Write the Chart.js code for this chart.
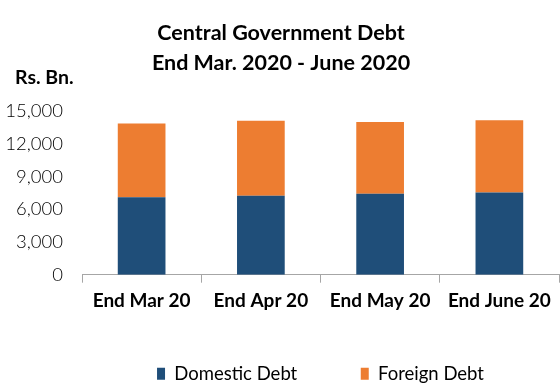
<!DOCTYPE html>
<html>
<head>
<meta charset="utf-8">
<script src="https://cdn.jsdelivr.net/npm/chart.js@4.4.0/dist/chart.umd.min.js"></script>
<style>
  html, body { margin: 0; padding: 0; background: #fff; }
  #wrap { width: 560px; height: 390px; }
</style>
</head>
<body>
<div id="wrap"><canvas id="debtChart"></canvas></div>
<script>
const categories = ['End Mar 20', 'End Apr 20', 'End May 20', 'End June 20'];
const domesticDebt = [7110, 7240, 7420, 7550];
const foreignDebt = [6770, 6890, 6590, 6610];
const yTicks = [0, 3000, 6000, 9000, 12000, 15000];

const fontFamily = "'Lato', 'Noto Sans', sans-serif";

// unit label sitting above the y axis
const unitLabel = {
    id: 'unitLabel',
    afterDraw(chart) {
        const ctx = chart.ctx;
        ctx.save();
        ctx.font = `bold 19.5px ${fontFamily}`;
        ctx.fillStyle = '#000';
        ctx.textAlign = 'left';
        ctx.textBaseline = 'middle';
        ctx.fillText('Rs. Bn.', 15, 78);
        ctx.restore();
    }
};

const ctx = document.getElementById('debtChart').getContext('2d');
new Chart(ctx, {
    type: 'bar',
    data: {
        labels: categories,
        datasets: [
            {
                label: 'Domestic Debt',
                data: domesticDebt,
                backgroundColor: '#1f4e79',
                barPercentage: 0.4,
                categoryPercentage: 1.0
            },
            {
                label: 'Foreign Debt',
                data: foreignDebt,
                backgroundColor: '#ed7d31',
                barPercentage: 0.4,
                categoryPercentage: 1.0
            }
        ]
    },
    options: {
        responsive: true,
        maintainAspectRatio: false,
        animation: false,
        layout: { padding: { top: 0, right: 1, left: 3, bottom: -3 } },
        scales: {
            x: {
                stacked: true,
                // labels sit inside their categories, no need for edge padding
                afterFit: (scale) => {
                    scale.paddingLeft = 0;
                    scale.paddingRight = 0;
                },
                grid: {
                    offset: true,
                    drawOnChartArea: false,
                    tickLength: 8,
                    color: '#a6a6a6'
                },
                border: { color: '#a6a6a6', width: 1 },
                ticks: {
                    color: '#000',
                    font: { family: fontFamily, size: 19, weight: 'bold' },
                    padding: 7
                }
            },
            y: {
                stacked: true,
                min: 0,
                max: 15000,
                afterBuildTicks: (axis) => {
                    axis.ticks = yTicks.map(v => ({ value: v }));
                },
                // chart.js reserves the tick padding twice; keep only one
                afterFit: (scale) => {
                    scale.width = 79;
                },
                grid: { display: false, drawTicks: false, tickLength: 0 },
                border: { display: false },
                ticks: {
                    color: '#000',
                    font: { family: fontFamily, size: 18.5, weight: 300 },
                    padding: 19,
                    callback: (v) => v.toLocaleString('en-US')
                }
            }
        },
        plugins: {
            title: {
                display: true,
                text: ['Central Government Debt', 'End Mar. 2020 - June 2020'],
                color: '#000',
                font: { family: fontFamily, size: 21.5, weight: 'bold', lineHeight: 1.4 },
                padding: { top: 18, bottom: 33 }
            },
            legend: {
                position: 'bottom',
                fullSize: false,
                labels: {
                    color: '#000',
                    font: { family: fontFamily, size: 18.5 },
                    boxWidth: 8,
                    boxHeight: 12,
                    padding: 45,
                    generateLabels: (chart) => {
                        const items = Chart.defaults.plugins.legend.labels.generateLabels(chart);
                        items[0].text += '\u2002\u2002';
                        return items;
                    }
                }
            },
            tooltip: { enabled: false }
        }
    },
    plugins: [unitLabel]
});
</script>
</body>
</html>
